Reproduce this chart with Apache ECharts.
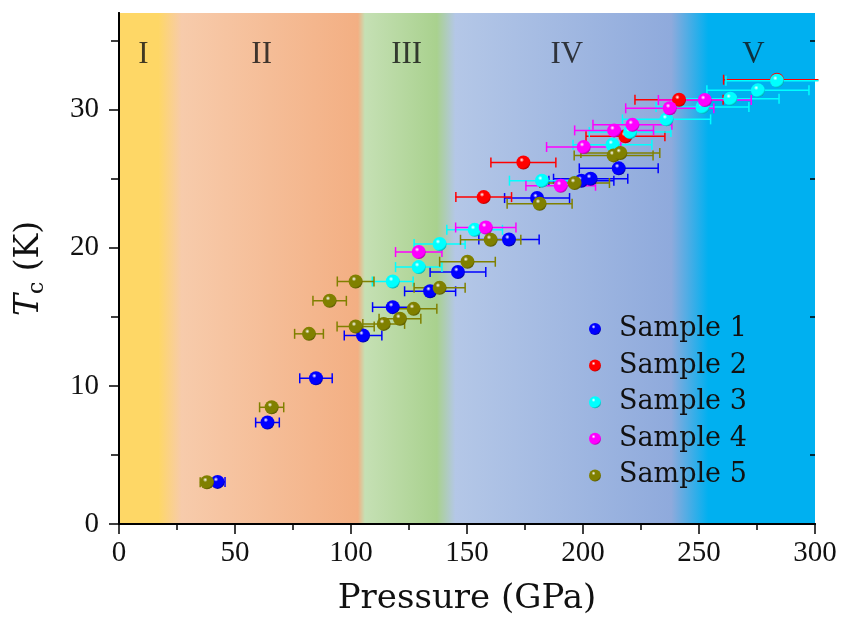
<!DOCTYPE html>
<html>
<head>
<meta charset="utf-8">
<script src="https://cdn.jsdelivr.net/npm/echarts@6/dist/echarts.min.js"></script>
<style>
html,body{margin:0;padding:0;background:#fff;}
#chart{width:857px;height:638px;}
</style>
</head>
<body>
<div id="chart"></div>
<script>
// ---- data (pressure GPa, Tc K, pressure error GPa) ----
const sampleNames = ['Sample 1', 'Sample 2', 'Sample 3', 'Sample 4', 'Sample 5'];
const P1 = [42.5, 64.0, 84.9, 105.2, 118.0, 134.1, 146.1, 168.1, 180.2, 199.3, 203.3, 215.4];
const T1 = [3.05, 7.35, 10.55, 13.65, 15.7, 16.85, 18.25, 20.6, 23.6, 24.85, 25.0, 25.75];
const E1 = [3.2, 5.1, 7.0, 8.1, 8.7, 11, 12, 13, 14, 14, 16, 17];
const P2 = [157.2, 174.3, 218.3, 241.4, 283.6];
const T2 = [23.67, 26.18, 28.07, 30.72, 32.17];
const E2 = [12, 14, 17, 19, 23];
const P3 = [118.0, 129.2, 138.2, 153.3, 182.3, 212.7, 220.3, 236.0, 251.5, 263.5, 275.4, 283.6];
const T3 = [17.56, 18.6, 20.27, 21.3, 24.86, 27.46, 28.38, 29.3, 30.2, 30.8, 31.4, 32.1];
const E3 = [8.8, 10, 11, 12, 14, 17, 17.6, 19, 20, 21, 22, 22];
const P4 = [129.2, 158.1, 190.4, 200.3, 213.4, 221.3, 237.4, 252.5];
const T4 = [19.69, 21.47, 24.49, 27.3, 28.5, 28.9, 30.1, 30.7];
const E4 = [10, 13, 15, 16, 17, 17, 19, 20];
const P5 = [37.9, 65.8, 81.9, 90.8, 102.0, 102.0, 114.1, 121.1, 127.0, 138.2, 150.2, 160.2, 181.3, 196.4, 213.2, 216.1];
const T5 = [3.02, 8.45, 13.77, 16.16, 17.56, 14.3, 14.49, 14.86, 15.58, 17.1, 18.99, 20.58, 23.19, 24.69, 26.69, 26.86];
const E5 = [2.9, 5.2, 6.2, 7.2, 7.9, 8, 9, 9, 10, 11, 12, 13, 14, 15, 17, 17];

const regionNames = ['I', 'II', 'III', 'IV', 'V'];
const regionP = [10.5, 61.5, 124, 193, 273.5];
const regionT = [34.0, 34.0, 34.0, 34.0, 34.0];

const xTicks = [0, 50, 100, 150, 200, 250, 300];
const yLabelTicks = [0, 10, 20, 30];
const yMinorTicks = [5, 15, 25, 35];

// ---- styling ----
const colors = ['#0000FF', '#FF0000', '#00FFFF', '#FF00FF', '#808000'];
const darks = ['#00007a', '#8a0000', '#008f8f', '#8a008a', '#474700'];
const serifText = 'DejaVu Serif';
const serifNum = 'Liberation Serif';

function ball(i) {
  return new echarts.graphic.RadialGradient(0.38, 0.32, 0.75, [
    {offset: 0, color: '#ffffff'},
    {offset: 0.22, color: colors[i]},
    {offset: 0.75, color: colors[i]},
    {offset: 1, color: darks[i]}
  ]);
}

const samples = [[P1, T1, E1], [P2, T2, E2], [P3, T3, E3], [P4, T4, E4], [P5, T5, E5]];

const series = [];
samples.forEach(function (s, i) {
  const data = s[0].map(function (p, k) { return [p, s[1][k], s[2][k]]; });
  series.push({
    type: 'custom',
    name: 'err' + (i + 1),
    silent: true,
    clip: false,
    z: 3,
    data: data,
    encode: {x: 0, y: 1},
    renderItem: function (params, api) {
      const p = api.value(0), t = api.value(1), e = api.value(2);
      const a = api.coord([p - e, t]);
      const b = api.coord([Math.min(p + e, 301.5), t]);
      const h = 5;
      const st = {stroke: colors[i], lineWidth: 1.5};
      const kids = [
        {type: 'line', shape: {x1: a[0], y1: a[1], x2: b[0], y2: b[1]}, style: st},
        {type: 'line', shape: {x1: a[0], y1: a[1] - h, x2: a[0], y2: a[1] + h}, style: st}
      ];
      if (p + e <= 300) {
        kids.push({type: 'line', shape: {x1: b[0], y1: b[1] - h, x2: b[0], y2: b[1] + h}, style: st});
      }
      return {type: 'group', children: kids};
    }
  });
  series.push({
    type: 'scatter',
    name: sampleNames[i],
    z: 4,
    symbol: 'circle',
    symbolSize: 14,
    itemStyle: {color: ball(i), opacity: 1},
    data: data.map(function (d) { return [d[0], d[1]]; })
  });
});

series.push({
  type: 'scatter',
  name: 'regions',
  silent: true,
  symbolSize: 0,
  z: 5,
  data: regionP.map(function (p, k) { return [p, regionT[k]]; }),
  label: {
    show: true,
    position: 'inside',
    formatter: function (p) { return regionNames[p.dataIndex]; },
    fontFamily: serifNum,
    fontSize: 31,
    color: '#111'
  }
});

const gridBg = new echarts.graphic.LinearGradient(0, 0, 1, 0, [
  {offset: 0, color: '#FED766'},
  {offset: 17 / 300, color: '#FED766'},
  {offset: 27 / 300, color: '#F7CBAB'},
  {offset: 103 / 300, color: '#F3AF83'},
  {offset: 106 / 300, color: '#C5E0B4'},
  {offset: 137 / 300, color: '#A9D18E'},
  {offset: 145 / 300, color: '#B4C7E7'},
  {offset: 238 / 300, color: '#8FAADC'},
  {offset: 254 / 300, color: '#00B0F0'},
  {offset: 1, color: '#00B0F0'}
]);

const axisLine = {show: true, lineStyle: {color: '#000', width: 2}};

const option = {
  animation: false,
  backgroundColor: '#fff',
  grid: {
    left: 119, right: 42, top: 13, bottom: 114,
    show: true, backgroundColor: gridBg, borderWidth: 0
  },
  legend: {
    data: sampleNames,
    orient: 'vertical',
    left: 584,
    top: 310,
    icon: 'circle',
    itemWidth: 38,
    itemHeight: 12,
    itemGap: 8.6,
    textStyle: {fontFamily: serifText, fontSize: 27, lineHeight: 28, color: '#111'}
  },
  xAxis: [
    {
      type: 'value', min: 0, max: 300, interval: 50, position: 'bottom',
      axisLine: axisLine,
      axisTick: {show: true, inside: false, length: 10, lineStyle: {color: '#000', width: 1.5}},
      minorTick: {show: true, splitNumber: 2, length: 6, lineStyle: {color: '#000', width: 1.5}},
      splitLine: {show: false},
      axisLabel: {
        customValues: xTicks,
        margin: 15, fontFamily: serifNum, fontSize: 29, color: '#111'
      },
      name: 'Pressure (GPa)',
      nameLocation: 'middle',
      nameGap: 58,
      nameTextStyle: {fontFamily: serifText, fontSize: 34, color: '#111'}
    },
    {
      type: 'value', min: 0, max: 300, interval: 50, position: 'top',
      axisLine: axisLine,
      axisTick: {show: true, inside: true, length: 10, lineStyle: {color: '#000', width: 1.5}},
      minorTick: {show: true, splitNumber: 2, length: 5, lineStyle: {color: '#000', width: 1.5}},
      splitLine: {show: false},
      axisLabel: {show: false}
    }
  ],
  yAxis: [
    {
      type: 'value', min: 0, max: 37, position: 'left',
      axisLine: axisLine,
      axisTick: {show: true, inside: false, length: 8, customValues: [0, 5, 10, 15, 20, 25, 30, 35], lineStyle: {color: '#000', width: 1.5}},
      splitLine: {show: false},
      axisLabel: {customValues: yLabelTicks, margin: 20, fontFamily: serifNum, fontSize: 29, color: '#111'},
      name: '{it|T}{sub|c}{n| (K)}',
      nameLocation: 'middle',
      nameGap: 71,
      nameRotate: 90,
      nameTextStyle: {
        fontFamily: serifText, fontSize: 33, color: '#111',
        rich: {
          it: {fontFamily: serifText, fontStyle: 'italic', fontSize: 33, color: '#111'},
          sub: {fontFamily: serifText, fontSize: 22, color: '#111', verticalAlign: 'bottom', padding: [16, 0, 0, 0]},
          n: {fontFamily: serifText, fontSize: 33, color: '#111'}
        }
      }
    },
    {
      type: 'value', min: 0, max: 37, position: 'right',
      axisLine: axisLine,
      axisTick: {show: true, inside: true, length: 10, customValues: yLabelTicks, lineStyle: {color: '#000', width: 1.5}},
      splitLine: {show: false},
      axisLabel: {show: false}
    },
    {
      type: 'value', min: 0, max: 37, position: 'right',
      axisLine: {show: false},
      axisTick: {show: true, inside: true, length: 5, customValues: yMinorTicks, lineStyle: {color: '#000', width: 1.5}},
      splitLine: {show: false},
      axisLabel: {show: false}
    }
  ],
  series: series
};

const chart = echarts.init(document.getElementById('chart'), null, {renderer: 'canvas'});
chart.setOption(option);
</script>
</body>
</html>
